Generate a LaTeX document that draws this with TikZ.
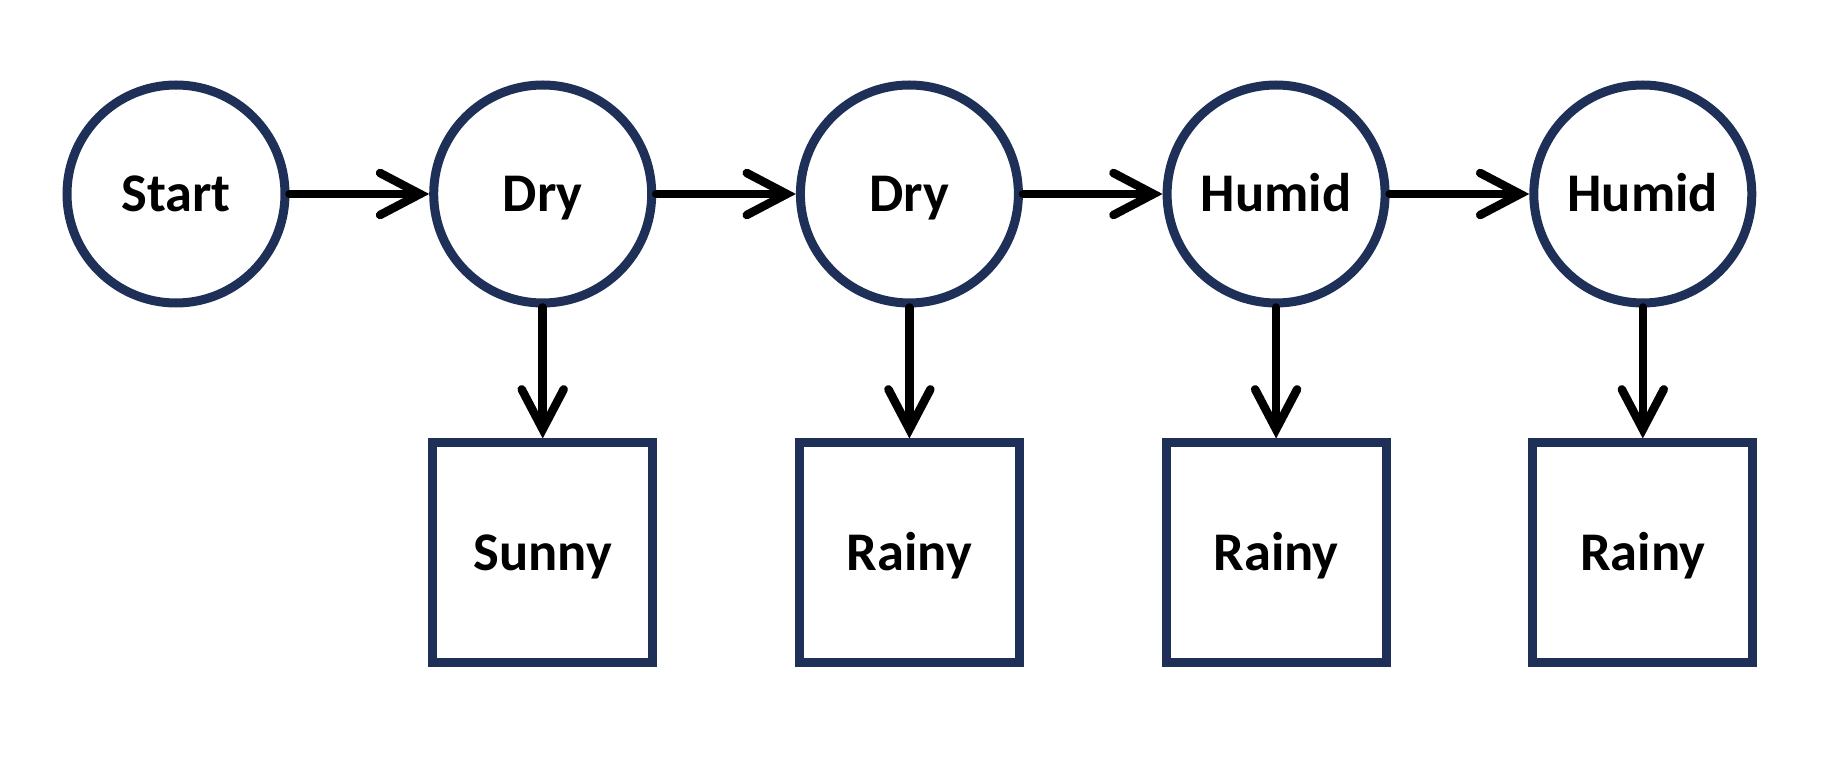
\documentclass[tikz,border=0pt]{standalone}
\usepackage{fontspec}
\setmainfont{Carlito}
\usetikzlibrary{arrows.meta}
\definecolor{navy}{RGB}{30,48,88}

\begin{document}
\begin{tikzpicture} [->,>={Straight Barb[length=4mm,width=4.2mm,line cap=round]},draw=black,line width=0.085cm,line cap=round,node distance=3.667cm, text height=10pt, text depth=0pt]
  \tikzstyle{hidden}=[circle,draw=navy,line width=0.09cm,minimum size=2.18cm,inner sep=0pt,font=\fontsize{15.5}{18}\selectfont\bfseries]
  \tikzstyle{seen}=[rectangle,draw=navy,line width=0.09cm,minimum size=2.2cm,inner sep=0pt,font=\fontsize{15.5}{18}\selectfont\bfseries]

  \useasboundingbox (0,0) rectangle (18.41,7.59);

  \node[hidden] (S) at (1.76, 5.65) {Start};
  \node[hidden, right of =S] (D1) {Dry};
  \node[hidden, right of =D1] (D2) {Dry};
  \node[hidden, right of =D2] (H1) {Humid};
  \node[hidden, right of =H1] (H2) {Humid};

  \node[seen, below of=D1, node distance=3.59cm] (O1) {Sunny};
  \node[seen, below of=D2, node distance=3.59cm] (O2) {Rainy};
  \node[seen, below of=H1, node distance=3.59cm] (O3) {Rainy};
  \node[seen, below of=H2, node distance=3.59cm] (O4) {Rainy};

  \path (S) edge (D1)
        (D1) edge (D2)
        (D2) edge (H1)
        (H1) edge (H2);
  \path (D1) edge (O1)
        (D2) edge (O2)
        (H1) edge (O3)
        (H2) edge (O4);

\end{tikzpicture}
\end{document}
